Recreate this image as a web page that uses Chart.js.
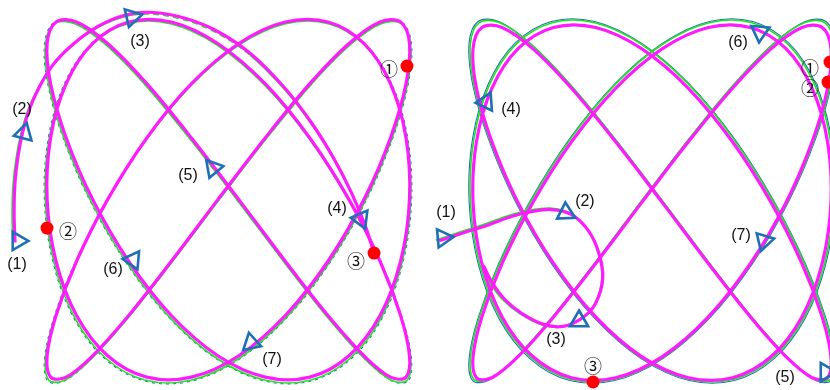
<!DOCTYPE html>
<html>
<head>
<meta charset="utf-8">
<script src="https://cdn.jsdelivr.net/npm/chart.js@4.4.1/dist/chart.umd.min.js"></script>
<style>
    html, body { margin: 0; padding: 0; background: #fff; }
    #wrap { position: relative; width: 830px; height: 390px; overflow: hidden; }
    canvas { position: absolute; top: 0; }
    #left { left: 0; }
    #right { left: 425px; }
</style>
</head>
<body>
<div id="wrap">
    <canvas id="left" width="425" height="390"></canvas>
    <canvas id="right" width="405" height="390"></canvas>
</div>
<script>
// steady 3:4 orbit, normalised units (same loop in both panels)
const loopX = [
    -0.058, 0.203, 0.449, 0.665, 0.836, 0.949, 0.998, 0.979, 0.893, 0.747, 0.549, 0.314,
    0.058, -0.203, -0.449, -0.665, -0.836, -0.949, -0.998, -0.979, -0.893, -0.747, -0.549, -0.314,
    -0.058, 0.203, 0.449, 0.665, 0.836, 0.949, 0.998, 0.979, 0.893, 0.747, 0.549, 0.314,
    0.058, -0.203, -0.449, -0.665, -0.836, -0.949, -0.998, -0.979, -0.893, -0.747, -0.549, -0.314,
    -0.058, 0.203, 0.449, 0.665, 0.836, 0.949, 0.998, 0.979, 0.893, 0.747, 0.549, 0.314,
    0.058, -0.203, -0.449, -0.665, -0.836, -0.949, -0.998, -0.979, -0.893, -0.747, -0.549, -0.314,
];
const loopY = [
    0, 0.342, 0.643, 0.866, 0.985, 0.985, 0.866, 0.643, 0.342,
    0, -0.342, -0.643, -0.866, -0.985, -0.985, -0.866, -0.643, -0.342,
    0, 0.342, 0.643, 0.866, 0.985, 0.985, 0.866, 0.643, 0.342,
    0, -0.342, -0.643, -0.866, -0.985, -0.985, -0.866, -0.643, -0.342,
    0, 0.342, 0.643, 0.866, 0.985, 0.985, 0.866, 0.643, 0.342,
    0, -0.342, -0.643, -0.866, -0.985, -0.985, -0.866, -0.643, -0.342,
    0, 0.342, 0.643, 0.866, 0.985, 0.985, 0.866, 0.643, 0.342,
    0, -0.342, -0.643, -0.866, -0.985, -0.985, -0.866, -0.643, -0.342,
];

// approach paths before joining the orbit
const leftLeadX = [-1.175, -1.180, -1.175, -1.158, -1.131, -1.093, -1.038, -0.967, -0.874, -0.754,
    -0.607, -0.464, -0.279, -0.082, 0.120, 0.311, 0.459, 0.579, 0.678, 0.754, 0.798];
const leftLeadY = [-0.238, -0.072, 0.094, 0.243, 0.381, 0.508, 0.630, 0.746, 0.845, 0.939,
    1.011, 1.039, 1.017, 0.945, 0.812, 0.619, 0.425, 0.232, 0.039, -0.144, -0.282];

const rightLeadX = [-1.187, -1.055, -0.918, -0.780, -0.670, -0.560, -0.451, -0.357, -0.297,
    -0.275, -0.313, -0.385, -0.495, -0.604, -0.725, -0.819, -0.890, -0.940];
const rightLeadY = [-0.215, -0.171, -0.127, -0.077, -0.050, -0.039, -0.066, -0.155, -0.282,
    -0.425, -0.564, -0.646, -0.696, -0.685, -0.624, -0.547, -0.453, -0.354];

// direction markers (1)..(7)
const arrowLabels = ["(1)", "(2)", "(3)", "(4)", "(5)", "(6)", "(7)"];
const leftArrowX = [-1.148, -1.115, -0.525, 0.727, -0.082, -0.519, 0.126];
const leftArrowY = [-0.215, 0.381, 1.022, -0.094, 0.188, -0.320, -0.779];
const rightArrowX = [-1.148, -0.473, -0.401, -0.912, 0.956, 0.593, 0.615];
const rightArrowY = [-0.204, -0.066, -0.663, 0.547, -0.945, 0.934, -0.221];

// sampled instants ①②③
const markLabels = ["①", "②", "③"];
const leftMarkX = [0.978, -0.989, 0.798];
const leftMarkY = [0.751, -0.144, -0.282];
const rightMarkX = [0.978, 0.967, -0.324];
const rightMarkY = [0.768, 0.657, -1.0];

function pts(xs, ys) {
    return xs.map(function (x, i) { return { x: x, y: ys[i] }; });
}
function closed(xs, ys) {
    const p = pts(xs, ys);
    p.push(p[0]);
    return p;
}

const MAGENTA = "#ff1aff";
const GREEN = "#1ee61e";
const BLUE = "#1f6fb4";

// hidden axis that maps the same data slightly scaled / nudged by a few pixels
function nudged(r, f, px, size, vertical) {
    const off = px * (r[1] - r[0]) * f / size;
    const s = vertical ? off : -off;
    return { type: "linear", display: false, min: r[0] * f + s, max: r[1] * f + s };
}

function makePanel(id, cfg) {
    const canvas = document.getElementById(id);
    const ctx = canvas.getContext("2d");
    const W = canvas.width, H = canvas.height;
    const loop = closed(loopX, loopY);
    const lead = pts(cfg.leadX, cfg.leadY);

    const textPlugin = {
        id: "labels",
        afterDatasetsDraw: function (chart) {
            const c = chart.ctx;
            const sx = chart.scales.x, sy = chart.scales.y;
            c.save();
            c.fillStyle = "#111";
            c.textAlign = "center";
            c.textBaseline = "middle";
            c.font = "16px 'Liberation Sans', Arial, sans-serif";
            arrowLabels.forEach(function (t, i) {
                const o = cfg.arrowText[i];
                c.fillText(t, sx.getPixelForValue(cfg.arrowX[i]) + o[0],
                    sy.getPixelForValue(cfg.arrowY[i]) + o[1]);
            });
            c.font = "18px 'Noto Sans CJK JP', 'DejaVu Sans', sans-serif";
            markLabels.forEach(function (t, i) {
                const o = cfg.markText[i];
                c.fillText(t, sx.getPixelForValue(cfg.markX[i]) + o[0],
                    sy.getPixelForValue(cfg.markY[i]) + o[1]);
            });
            c.restore();
        },
    };

    const m = cfg.magenta, b = cfg.blue;

    return new Chart(ctx, {
        type: "scatter",
        data: {
            datasets: [
                {
                    data: pts(cfg.arrowX, cfg.arrowY),
                    pointStyle: "triangle",
                    rotation: cfg.arrowRot,
                    pointRadius: 10.5,
                    borderColor: BLUE,
                    borderWidth: 2.6,
                    backgroundColor: "rgba(255,255,255,0)",
                    order: 0,
                },
                {
                    data: pts(cfg.markX, cfg.markY),
                    pointRadius: 6.5,
                    backgroundColor: "#ff0000",
                    borderWidth: 0,
                    order: 1,
                },
                {
                    data: loop, showLine: true, pointRadius: 0, tension: 0.35,
                    borderColor: MAGENTA, borderWidth: 3.2, xAxisID: "xm", yAxisID: "ym", order: 2,
                },
                {
                    data: lead, showLine: true, pointRadius: 0, tension: 0.35,
                    borderColor: MAGENTA, borderWidth: 3.2, xAxisID: "xm", yAxisID: "ym", order: 2,
                },
                {
                    data: loop, showLine: true, pointRadius: 0, tension: 0.35,
                    borderColor: GREEN, borderWidth: 1.6, order: 3,
                },
                {
                    data: lead, showLine: true, pointRadius: 0, tension: 0.35,
                    borderColor: GREEN, borderWidth: 1.6, order: 3,
                    segment: {
                        borderDash: function (s) {
                            return (s.p0DataIndex >= cfg.dashFrom && s.p0DataIndex < cfg.dashTo) ? [6, 4] : [];
                        },
                    },
                },
                {
                    data: loop, showLine: true, pointRadius: 0, tension: 0.35,
                    borderColor: BLUE, borderWidth: 1.1, borderDash: cfg.blueDash,
                    xAxisID: "xb", yAxisID: "yb", order: 4,
                },
            ],
        },
        options: {
            responsive: false,
            animation: false,
            events: [],
            layout: { padding: 0, autoPadding: false },
            plugins: { legend: { display: false }, tooltip: { enabled: false } },
            scales: {
                x: { type: "linear", display: false, min: cfg.xr[0], max: cfg.xr[1] },
                y: { type: "linear", display: false, min: cfg.yr[0], max: cfg.yr[1] },
                xm: nudged(cfg.xr, m.fx, m.dx, W, false),
                ym: nudged(cfg.yr, m.fy, m.dy, H, true),
                xb: nudged(cfg.xr, b.fx, b.dx, W, false),
                yb: nudged(cfg.yr, b.fy, b.dy, H, true),
            },
        },
        plugins: [textPlugin],
    });
}

makePanel("left", {
    xr: [-1.246, 1.0765],
    yr: [-1.0387, 1.116],
    magenta: { fx: 1.008, dx: 0.3, fy: 1.004, dy: -2.4 },
    blue: { fx: 0.995, dx: 0, fy: 0.995, dy: 0 },
    blueDash: [3, 4],
    dashFrom: 11, dashTo: 14,
    leadX: leftLeadX, leadY: leftLeadY,
    arrowX: leftArrowX, arrowY: leftArrowY,
    arrowRot: [90, 15, 77, 157, 320, 155, 228],
    arrowText: [[-1, 24], [-2, -23], [8, 25], [-24, -10], [-25, 8], [-20, 10], [21, 17]],
    markX: leftMarkX, markY: leftMarkY,
    markText: [[-18, 3], [21, 3], [-18, 8]],
});

makePanel("right", {
    xr: [-1.2473, 0.978],
    yr: [-1.0442, 1.1105],
    magenta: { fx: 1.015, dx: 0, fy: 1.018, dy: 1.6 },
    blue: { fx: 0.993, dx: 0, fy: 0.993, dy: 0 },
    blueDash: [],
    dashFrom: -1, dashTo: -1,
    leadX: rightLeadX, leadY: rightLeadY,
    arrowX: rightArrowX, arrowY: rightArrowY,
    arrowRot: [85, 357, 0, 266, 90, 65, 77],
    arrowText: [[3, -25], [19, -11], [-23, 19], [25, 8], [-41, 6], [-22, 11], [-23, -5]],
    markX: rightMarkX, markY: rightMarkY,
    markText: [[-20, 6], [-18, 6], [0, -16]],
});
</script>
</body>
</html>
